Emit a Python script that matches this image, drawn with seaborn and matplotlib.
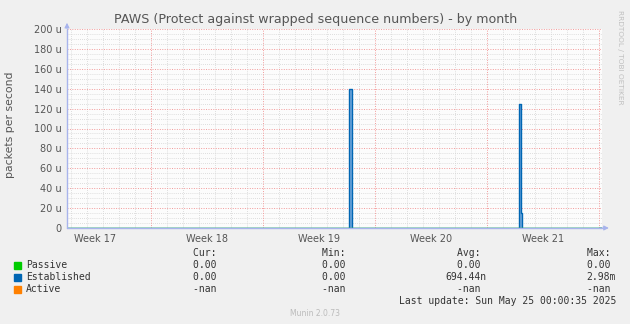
import matplotlib
matplotlib.use('Agg')
import matplotlib.pyplot as plt
from matplotlib.patches import Rectangle
import seaborn as sns
import pandas as pd

title = "PAWS (Protect against wrapped sequence numbers) - by month"
y_label = "packets per second"
week_labels = ['Week 17', 'Week 18', 'Week 19', 'Week 20', 'Week 21']
week_mid = [-3.5, 3.5, 10.5, 17.5, 24.5]
week_lines = [0, 7, 14, 21, 28]
x_start, x_end = -5.25, 28.2

# days since Mon Apr 28, values in micro packets/s
est_days = [-5.25, 12.40, 12.60, 23.03, 23.12, 23.19, 23.30, 28.2]
est_vals = [0, 140, 0, 125, 15, 0, 0, 0]
passive_days = [-5.25, 28.2]
passive_vals = [0, 0]

legend_names = ['Passive', 'Established', 'Active']
legend_colors = ['#00cc00', '#0066b3', '#ff8000']
cur_vals = ['0.00 ', '0.00 ', '-nan ']
min_vals = ['0.00 ', '0.00 ', '-nan ']
avg_vals = ['0.00 ', '694.44n', '-nan ']
max_vals = ['0.00 ', '2.98m', '-nan ']

W, H = 630, 324
sns.set_style('white')
plt.rcParams['font.family'] = ['DejaVu Sans']

fig = plt.figure(figsize=(W / 100, H / 100), dpi=100, facecolor='#f0f0f0')
ax = fig.add_axes([67 / W, 1 - 228 / H, 535 / W, 199 / H])
ax.set_facecolor('#fcfcfc')


def px(x, y):
    return x / W, 1 - y / H


# grids, dotted
dots = (0, (1, 1.5))
for d in range(-5, 29):
    if d not in week_lines:
        ax.axvline(d, color='#d4d4d4', lw=0.6, ls=dots, zorder=1)
for v in range(5, 201, 5):
    if v % 20:
        ax.axhline(v, color='#d4d4d4', lw=0.6, ls=dots, zorder=1)
for d in week_lines:
    ax.axvline(d, color='#f29a9a', lw=0.7, ls=dots, zorder=2)
for v in range(20, 201, 20):
    ax.axhline(v, color='#f29a9a', lw=0.7, ls=dots, zorder=2)

df = pd.DataFrame({'day': est_days, 'val': est_vals})
ax.fill_between(df['day'], df['val'], step='post', color='#6fa6db', lw=0, zorder=3)
sns.lineplot(data=df, x='day', y='val', ax=ax, color='#0066b3', lw=1.0,
             drawstyle='steps-post', estimator=None, zorder=4)
sns.lineplot(x=passive_days, y=passive_vals, ax=ax, color='#00cc00', lw=1.0, zorder=4)

ax.set_xlim(x_start, x_end)
ax.set_ylim(0, 200)
ax.set_xlabel('')
ax.set_ylabel('')
ax.set_yticks(range(0, 201, 20))
ax.set_yticklabels(['0'] + [f'{v} u' for v in range(20, 201, 20)])
ax.set_xticks(week_mid)
ax.set_xticklabels(week_labels)
ax.tick_params(axis='both', labelsize=7, colors='#555555', length=0, pad=4)
for s in ax.spines.values():
    s.set_visible(False)

# axes with arrows
axis_c = '#a8b4ec'
ax.plot([x_start, x_start], [0, 200], color=axis_c, lw=1.0, clip_on=False, zorder=5)
ax.plot([x_start, x_end], [0, 0], color=axis_c, lw=1.0, clip_on=False, zorder=5)
ax.annotate('', xy=(0, 1.045), xytext=(0, 0.99), xycoords='axes fraction',
            arrowprops=dict(arrowstyle='-|>', color=axis_c, lw=0.8, mutation_scale=7))
ax.annotate('', xy=(1.018, 0), xytext=(0.99, 0), xycoords='axes fraction',
            arrowprops=dict(arrowstyle='-|>', color=axis_c, lw=0.8, mutation_scale=7))

fig.text(*px(316, 19), title, ha='center', va='center', fontsize=9.1, color='#555555')
fig.text(*px(10, 125), y_label, ha='center', va='center', rotation=90,
         fontsize=7.8, color='#555555')
fig.text(*px(620, 57), 'RRDTOOL / TOBI OETIKER', ha='center', va='center',
         rotation=270, fontsize=5.3, color='#c0c0c0')

mono = 'DejaVu Sans Mono'
fs = 7
tc = '#333333'
col_x = [222, 351, 486, 616]
for x, h in zip(col_x, ['Cur: ', 'Min: ', 'Avg: ', 'Max: ']):
    fig.text(*px(x, 253), h, ha='right', va='center', family=mono, fontsize=fs, color=tc)
for i, name in enumerate(legend_names):
    y = 265 + 12 * i
    fig.patches.append(Rectangle(px(14, y + 3.5), 7 / W, 7 / H, color=legend_colors[i],
                                 transform=fig.transFigure, figure=fig))
    fig.text(*px(26, y), name, ha='left', va='center', family=mono, fontsize=fs, color=tc)
    for x, vals in zip(col_x, [cur_vals, min_vals, avg_vals, max_vals]):
        fig.text(*px(x, y), vals[i], ha='right', va='center', family=mono,
                 fontsize=fs, color=tc)
fig.text(*px(616, 301), 'Last update: Sun May 25 00:00:35 2025', ha='right', va='center',
         family=mono, fontsize=fs, color=tc)
fig.text(*px(315, 313), 'Munin 2.0.73', ha='center', va='center', fontsize=5.5,
         color='#bbbbbb')

fig.savefig('out.png', dpi=100, facecolor=fig.get_facecolor())
